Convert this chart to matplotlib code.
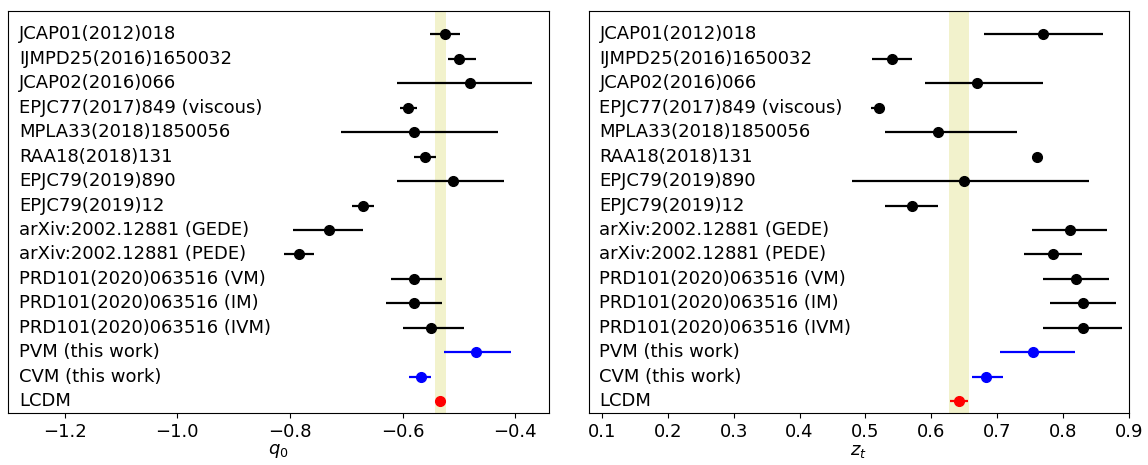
import numpy as np
from matplotlib import pyplot as plt
import matplotlib.transforms as mtransforms

plt.rcParams['font.family'] = ['DejaVu Sans']
plt.rcParams['mathtext.fontset'] = 'dejavusans'

labels = ["JCAP01(2012)018", "IJMPD25(2016)1650032", "JCAP02(2016)066",
          "EPJC77(2017)849 (viscous)", "MPLA33(2018)1850056", "RAA18(2018)131",
          "EPJC79(2019)890", "EPJC79(2019)12", "arXiv:2002.12881 (GEDE)",
          "arXiv:2002.12881 (PEDE)", "PRD101(2020)063516 (VM)",
          "PRD101(2020)063516 (IM)", "PRD101(2020)063516 (IVM)",
          "PVM (this work)", "CVM (this work)", "LCDM"]
colors = ["black"]*13 + ["blue", "blue", "red"]

# q0 values, lower and upper errors
q0 = [-0.525, -0.50, -0.48, -0.59, -0.58, -0.56, -0.51, -0.67, -0.73, -0.784,
      -0.58, -0.58, -0.55, -0.47, -0.568, -0.533]
q0_lo = [0.027, 0.019, 0.13, 0.015, 0.13, 0.02, 0.10, 0.02, 0.065, 0.027,
         0.04, 0.05, 0.05, 0.057, 0.02, 0.004]
q0_hi = [0.027, 0.030, 0.11, 0.015, 0.15, 0.02, 0.09, 0.02, 0.06, 0.027,
         0.05, 0.05, 0.06, 0.062, 0.019, 0.004]
q0_band = [-0.542, -0.523]

# zt values, lower and upper errors
zt = [0.77, 0.54, 0.67, 0.52, 0.61, 0.76, 0.65, 0.57, 0.81, 0.785,
      0.82, 0.83, 0.83, 0.755, 0.683, 0.642]
zt_lo = [0.09, 0.03, 0.08, 0.012, 0.08, 0.004, 0.17, 0.04, 0.057, 0.044,
         0.05, 0.05, 0.06, 0.05, 0.021, 0.013]
zt_hi = [0.09, 0.03, 0.10, 0.008, 0.12, 0.004, 0.19, 0.04, 0.056, 0.044,
         0.05, 0.05, 0.06, 0.063, 0.026, 0.014]
zt_band = [0.627, 0.657]

fig = plt.figure(figsize=(11.48, 4.65), dpi=100)
ax1 = fig.add_axes([0.0072, 0.1112, 0.471, 0.8658])
ax2 = fig.add_axes([0.5128, 0.1112, 0.4706, 0.8658])

y = np.arange(len(labels))

for ax, val, lo, hi, band, xl, lim in [
        (ax1, q0, q0_lo, q0_hi, q0_band, "$q_0$", (-1.30, -0.34)),
        (ax2, zt, zt_lo, zt_hi, zt_band, "$z_t$", (0.08, 0.90))]:
    ax.axvspan(band[0], band[1], color="y", alpha=0.2, lw=0)
    for i in range(len(labels)):
        ax.errorbar(val[i], y[i], xerr=[[lo[i]], [hi[i]]], fmt="o",
                    color=colors[i], ms=7, lw=1.6, capsize=0)
    trans = mtransforms.blended_transform_factory(ax.transAxes, ax.transData)
    for i, lab in enumerate(labels):
        ax.text(0.02, y[i], lab, transform=trans, fontsize=13, va="center")
    ax.set_xlim(lim)
    ax.set_ylim(15.5, -0.97)
    ax.set_yticks([])
    ax.set_xlabel(xl, fontsize=13, labelpad=1)
    ax.tick_params(axis="x", labelsize=13)

ax2.set_xticks([0.1, 0.2, 0.3, 0.4, 0.5, 0.6, 0.7, 0.8, 0.9])

plt.savefig("out.png", dpi=100)
